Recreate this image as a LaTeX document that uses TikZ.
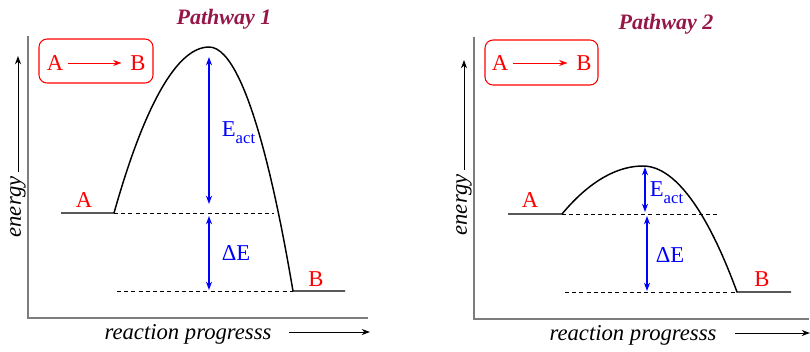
\documentclass[tikz,border=0pt]{standalone}
\usepackage{fontspec}
\setmainfont{Liberation Serif}
\usetikzlibrary{arrows.meta}
\definecolor{granate}{RGB}{150,22,72}
\definecolor{gris}{RGB}{125,125,125}
\newcommand{\Eact}{E\raisebox{-0.3em}{\fontsize{12.5}{13}\selectfont act}}

\begin{document}
\begin{tikzpicture}[x=0.75pt, y=-0.75pt, >={Stealth[length=2.2mm, width=1.6mm]}, line width=0.8pt,
  font=\fontsize{17}{19}\selectfont,
  eje/.style={draw=gris, line width=1.4pt},
  curva/.style={line width=1.1pt},
  nivel/.style={dash pattern=on 3pt off 2.4pt, line width=0.75pt},
  flecha/.style={blue, <->, line width=0.9pt},
  etiq/.style={text=red},
  titulo/.style={font=\fontsize{16.5}{18}\selectfont\bfseries\itshape, text=granate},
  caja/.style={draw=red, rounded corners=6pt, line width=0.8pt}]
  \useasboundingbox (0,0) rectangle (810,351);

  % ---------- camino 1 ----------
  \coordinate (O1) at (28,318);
  \coordinate (Y1) at (28,36);
  \coordinate (X1) at (368,318);
  \draw[eje] (Y1) -- (O1) -- (X1);
  % ejes con sus nombres
  \node[rotate=90, font=\fontsize{17}{19}\selectfont\itshape] (en1) at (18,207) {energy};
  \coordinate (E1) at (18,56);
  \draw[->, line width=0.7pt] (en1.east) -- (E1);
  \node[font=\fontsize{17}{19}\selectfont\itshape] (rp1) at (188,334) {reaction progresss};
  \coordinate (P1a) at (289,332);
  \coordinate (P1b) at (370,332);
  \draw[->, line width=0.7pt] (P1a) -- (P1b);
  \node[titulo] (t1) at (224,19) {Pathway 1};
  % recuadro de la reaccion
  \draw[caja] (39,39) rectangle (153,83);
  \node[etiq] (rA1) at (55,63) {A};
  \node[etiq] (rB1) at (138,63) {B};
  \draw[red, ->, line width=0.7pt, shorten >=3pt] (rA1) -- (rB1);
  % perfil de energia
  \coordinate (a1) at (61,213);
  \coordinate (a2) at (114,213);
  \coordinate (ts1) at (209,47);
  \coordinate (b1) at (293,291);
  \coordinate (b2) at (345,291);
  \draw[curva] (a1) -- (a2) parabola bend (ts1) (b1) -- (b2);
  \node[etiq] (lA1) at (84,200) {A};
  \node[etiq] (lB1) at (316,279) {B};
  \coordinate (d1) at (274,213);
  \coordinate (d2) at (117,291);
  \draw[nivel] (a2) -- (d1);
  \draw[nivel] (d2) -- (b1);
  % flechas de energia de activacion y de reaccion
  \coordinate (f1) at (209,57);
  \coordinate (f2) at (209,204);
  \coordinate (f3) at (209,216);
  \coordinate (f4) at (209,290);
  \draw[flecha] (f1) -- (f2);
  \draw[flecha] (f3) -- (f4);
  \node[blue, anchor=west, inner sep=1pt] (ea1) at (220,133) {\Eact};
  \node[blue, anchor=west, inner sep=1pt] (de1) at (220,253) {ΔE};

  % ---------- camino 2 ----------
  \coordinate (O2) at (474,319);
  \coordinate (Y2) at (474,37);
  \coordinate (X2) at (809,319);
  \draw[eje] (Y2) -- (O2) -- (X2);
  \node[rotate=90, font=\fontsize{17}{19}\selectfont\itshape] (en2) at (464,205) {energy};
  \coordinate (E2) at (464,60);
  \draw[->, line width=0.7pt] (en2.east) -- (E2);
  \node[font=\fontsize{17}{19}\selectfont\itshape] (rp2) at (633,335) {reaction progresss};
  \coordinate (P2a) at (735,333);
  \coordinate (P2b) at (810,333);
  \draw[->, line width=0.7pt] (P2a) -- (P2b);
  \node[titulo] (t2) at (666,24) {Pathway 2};
  \draw[caja] (485,40) rectangle (598,85);
  \node[etiq] (rA2) at (500,63) {A};
  \node[etiq] (rB2) at (584,63) {B};
  \draw[red, ->, line width=0.7pt, shorten >=3pt] (rA2) -- (rB2);
  \coordinate (a3) at (508,214);
  \coordinate (a4) at (562,214);
  \coordinate (ts2) at (643,166);
  \coordinate (b3) at (737,292);
  \coordinate (b4) at (791,292);
  \draw[curva] (a3) -- (a4) parabola bend (ts2) (b3) -- (b4);
  \node[etiq] (lA2) at (530,200) {A};
  \node[etiq] (lB2) at (762,279) {B};
  \coordinate (d3) at (720,214);
  \coordinate (d4) at (565,292);
  \draw[nivel] (a4) -- (d3);
  \draw[nivel] (d4) -- (b3);
  \coordinate (f5) at (645,167);
  \coordinate (f6) at (645,212);
  \coordinate (f7) at (647,216);
  \coordinate (f8) at (647,291);
  \draw[flecha] (f5) -- (f6);
  \draw[flecha] (f7) -- (f8);
  \node[blue, anchor=west, inner sep=1pt] (ea2) at (648,193) {\Eact};
  \node[blue, anchor=west, inner sep=1pt] (de2) at (654,255) {ΔE};
\end{tikzpicture}
\end{document}
